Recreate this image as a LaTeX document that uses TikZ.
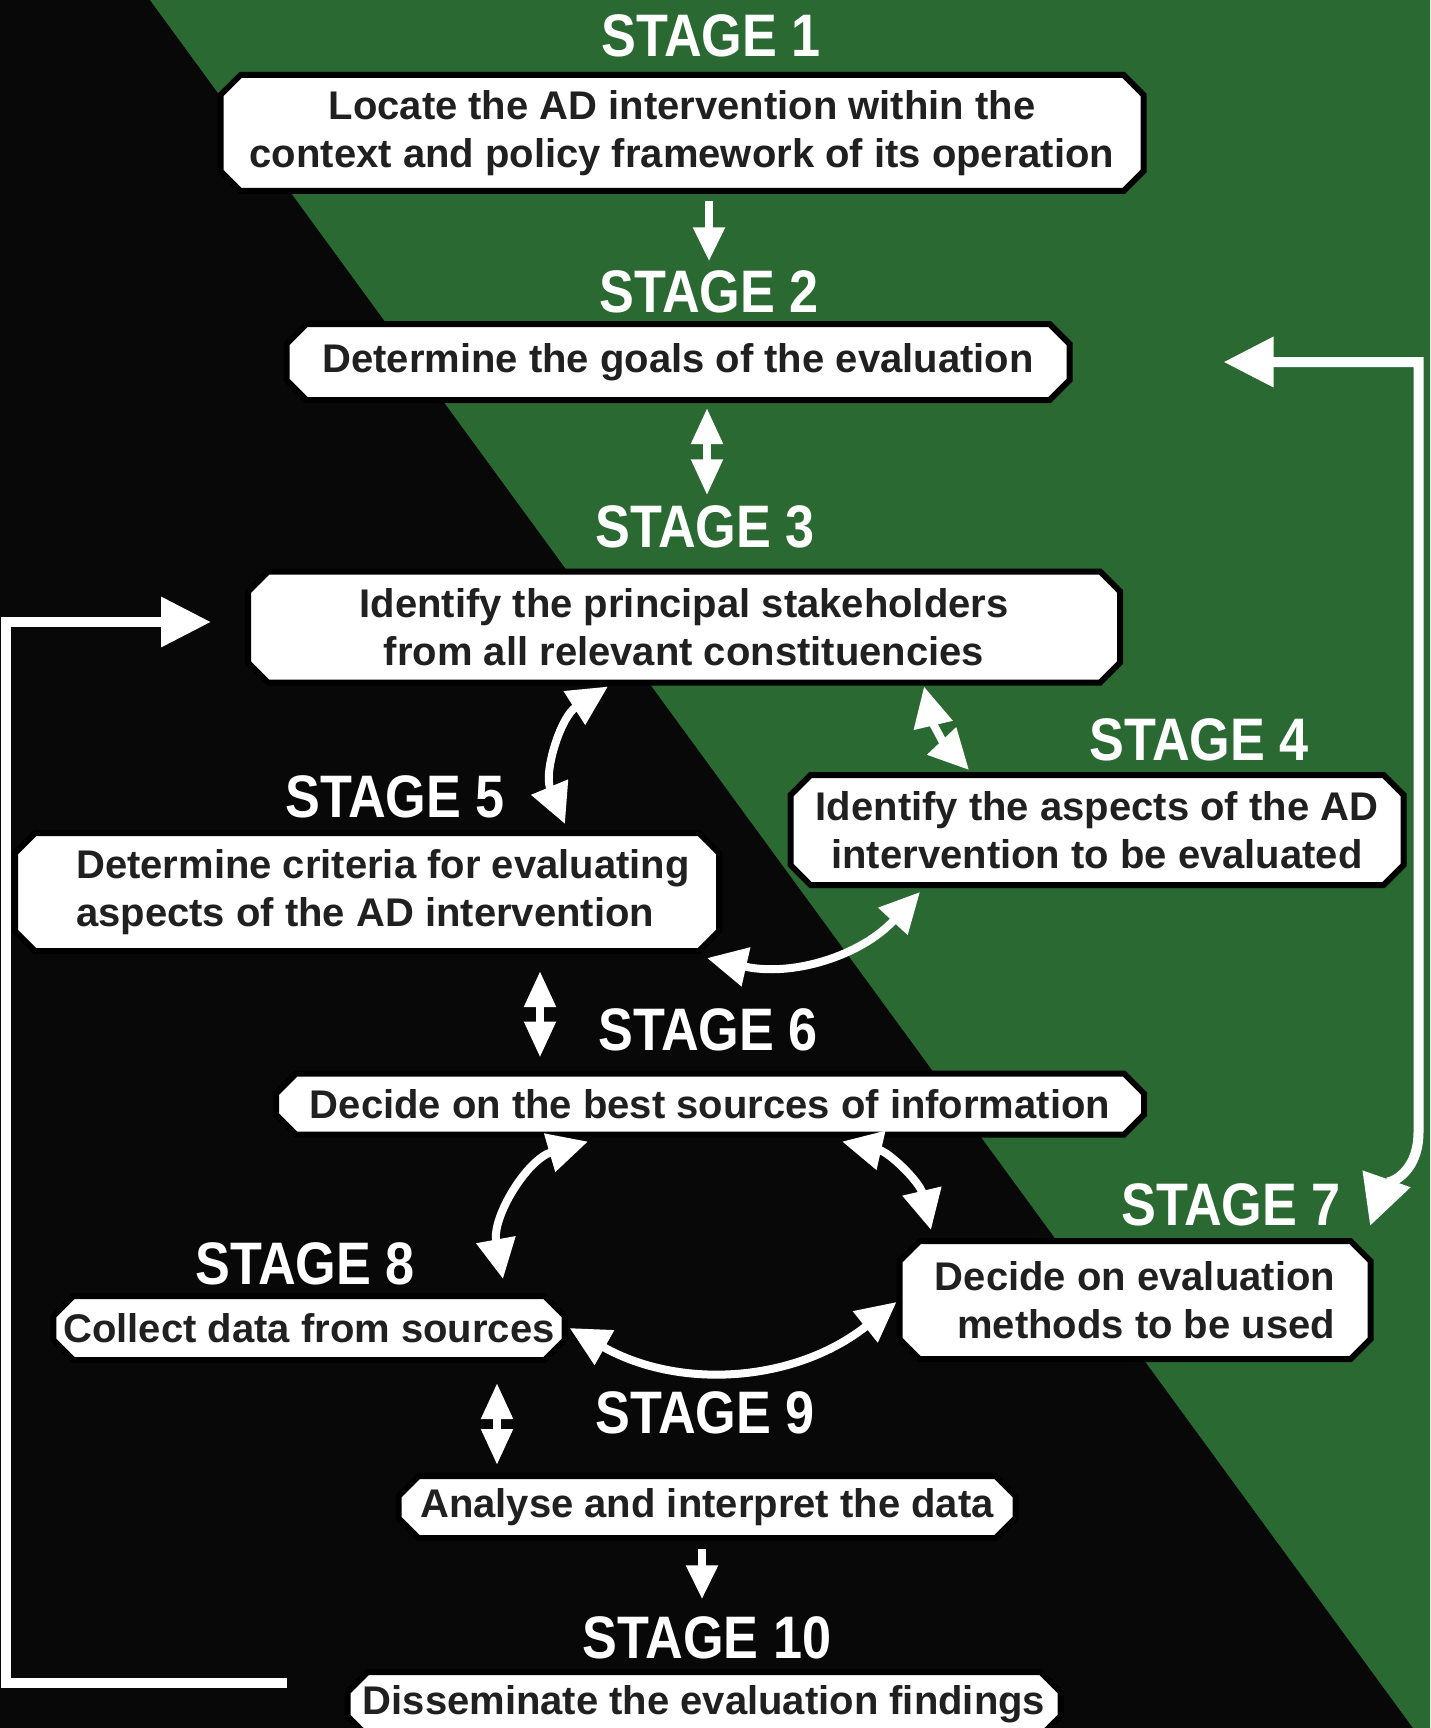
\documentclass[tikz,border=0pt]{standalone}
\usepackage{fontspec}
\setmainfont{Liberation Sans}
\newfontfamily\stagefont[FakeStretch=0.87]{Liberation Sans}
\usetikzlibrary{arrows.meta,shapes.misc,calc}

\definecolor{bggreen}{RGB}{42,106,50}
\definecolor{bgblack}{RGB}{8,8,8}
\definecolor{boxtext}{RGB}{32,32,32}

\tikzset{
  stagebox/.style={chamfered rectangle, chamfered rectangle xsep=5pt,
    chamfered rectangle ysep=5pt, fill=white, draw=black, line width=3pt,
    inner sep=0pt, text=boxtext, align=center,
    font=\fontsize{20}{24}\selectfont\bfseries},
  stagelabel/.style={text=white, inner sep=0pt,
    font=\stagefont\bfseries\fontsize{30}{32}\selectfont},
  single/.style={draw=white, line width=4pt,
    -{Triangle[length=17pt,width=15pt]}},
  twoway/.style={draw=white, line width=4pt,
    {Triangle[length=18pt,width=15pt]}-{Triangle[length=18pt,width=15pt]}},
  curvedway/.style={draw=white, line width=4pt,
    {Triangle[length=20pt,width=19pt]}-{Triangle[length=20pt,width=19pt]}},
  loopline/.style={draw=white, line width=5pt},
  looptip/.style={-{Triangle[length=25pt,width=24pt]}},
  looptwo/.style={{Triangle[length=25pt,width=24pt]}-{Triangle[length=25pt,width=24pt]}}
}

\begin{document}
\begin{tikzpicture}[x=0.5pt,y=-0.5pt]
  % background: black on the left, green on the right of the diagonal
  \useasboundingbox (0,0) rectangle (1430,1728);
  \fill[bgblack] (0,0) rectangle (1430,1728);
  \fill[bggreen] (150,0) -- (1430,0) -- (1430,1728) -- (1413,1728) -- cycle;

  % stage boxes
  \node[stagebox, minimum width=461.5pt, minimum height=58pt] (b1) at (682,133)
    {Locate the AD intervention within the\\context and policy framework of its operation};
  \node[stagebox, minimum width=391.5pt, minimum height=38pt] (b2) at (678,362)
    {Determine the goals of the evaluation};
  \node[stagebox, minimum width=436pt, minimum height=55.5pt] (b3) at (684,627)
    {Identify the principal stakeholders\\from all relevant constituencies};
  \node[stagebox, minimum width=306.5pt, minimum height=55pt] (b4) at (1097,830)
    {Identify the aspects of the AD\\intervention to be evaluated};
  \node[stagebox, minimum width=352pt, minimum height=59pt, align=left] (b5) at (367,892)
    {\hspace*{16pt}Determine criteria for evaluating\\\hspace*{16pt}aspects of the AD intervention};
  \node[stagebox, minimum width=434pt, minimum height=30.5pt] (b6) at (710,1104)
    {Decide on the best sources of information};
  \node[stagebox, minimum width=235.5pt, minimum height=59pt, align=right] (b7) at (1135,1300)
    {Decide on evaluation\\methods to be used};
  \node[stagebox, minimum width=255pt, minimum height=32pt] (b8) at (309,1328)
    {Collect data from sources};
  \node[stagebox, minimum width=308.5pt, minimum height=31pt] (b9) at (707,1507)
    {Analyse and interpret the data};
  \node[stagebox, minimum width=356.5pt, minimum height=32pt] (b10) at (704,1704)
    {Disseminate the evaluation findings};

  % stage titles
  \node[stagelabel] (s1)  at (711,36)    {STAGE 1};
  \node[stagelabel] (s2)  at (709,292)   {STAGE 2};
  \node[stagelabel] (s3)  at (705,527)   {STAGE 3};
  \node[stagelabel] (s4)  at (1199,740)  {STAGE 4};
  \node[stagelabel] (s5)  at (395,797)   {STAGE 5};
  \node[stagelabel] (s6)  at (708,1030)  {STAGE 6};
  \node[stagelabel] (s7)  at (1231,1205) {STAGE 7};
  \node[stagelabel] (s8)  at (305,1264)  {STAGE 8};
  \node[stagelabel] (s9)  at (705,1413)  {STAGE 9};
  \node[stagelabel] (s10) at (707,1638)  {STAGE 10};

  % straight links
  \coordinate (p12) at ([xshift=13.5pt,yshift=-3.5pt]b1.south);
  \draw[single, shorten >=4.5pt] (p12) -- (p12 |- s2.north);
  \coordinate (p23) at ([xshift=14.5pt,yshift=-2.5pt]b2.south);
  \draw[twoway, shorten >=5pt] (p23) -- (p23 |- s3.north);
  \coordinate (p56) at ([xshift=86.5pt,yshift=-8.5pt]b5.south);
  \draw[twoway, shorten >=6.5pt] (p56) -- (p56 |- b6.north);
  \coordinate (p89) at ([xshift=94pt,yshift=-10pt]b8.south);
  \draw[twoway, shorten >=4pt] (p89) -- (p89 |- b9.north);
  \coordinate (p910) at ([xshift=-2.5pt,yshift=-4pt]b9.south);
  \draw[single, shorten >=8.5pt] (p910) -- (p910 |- s10.north);

  % curved links
  \draw[curvedway] ([xshift=-38pt,yshift=-0.5pt]b3.south)
    to[bend right=40] ([xshift=99pt,yshift=3pt]b5.north);
  \draw[curvedway] ([xshift=120pt,yshift=-0.5pt]b3.south)
    to[bend right=15] ([xshift=-64pt,yshift=1pt]b4.north);
  \draw[curvedway] ([xshift=170pt,yshift=-2pt]b5.south)
    to[bend right=30] ([xshift=-88.5pt,yshift=-2pt]b4.south);
  \draw[curvedway] ([xshift=-61pt,yshift=-2pt]b6.south)
    to[bend right=42] ([xshift=97pt,yshift=7pt]b8.north);
  \draw[curvedway] ([xshift=66pt,yshift=-2pt]b6.south)
    to[bend left=32] ([xshift=-102pt,yshift=4pt]b7.north);
  \draw[curvedway] ([xshift=1pt]b8.east)
    to[bend right=34] ([yshift=-1pt]b7.west);

  % feedback loops
  \draw[loopline, looptip] ([xshift=-29pt,yshift=10.5pt]b10.west)
    -- ++(-281,0) |- ([xshift=-17pt,yshift=2.5pt]b3.west);
  \draw[loopline, looptwo] ([xshift=75.5pt]b2.east)
    -- ++(195,0) -- ++(0,770)
    .. controls +(0,45) and +(14,-40) .. ([xshift=117.5pt,yshift=6pt]b7.north);
\end{tikzpicture}
\end{document}
